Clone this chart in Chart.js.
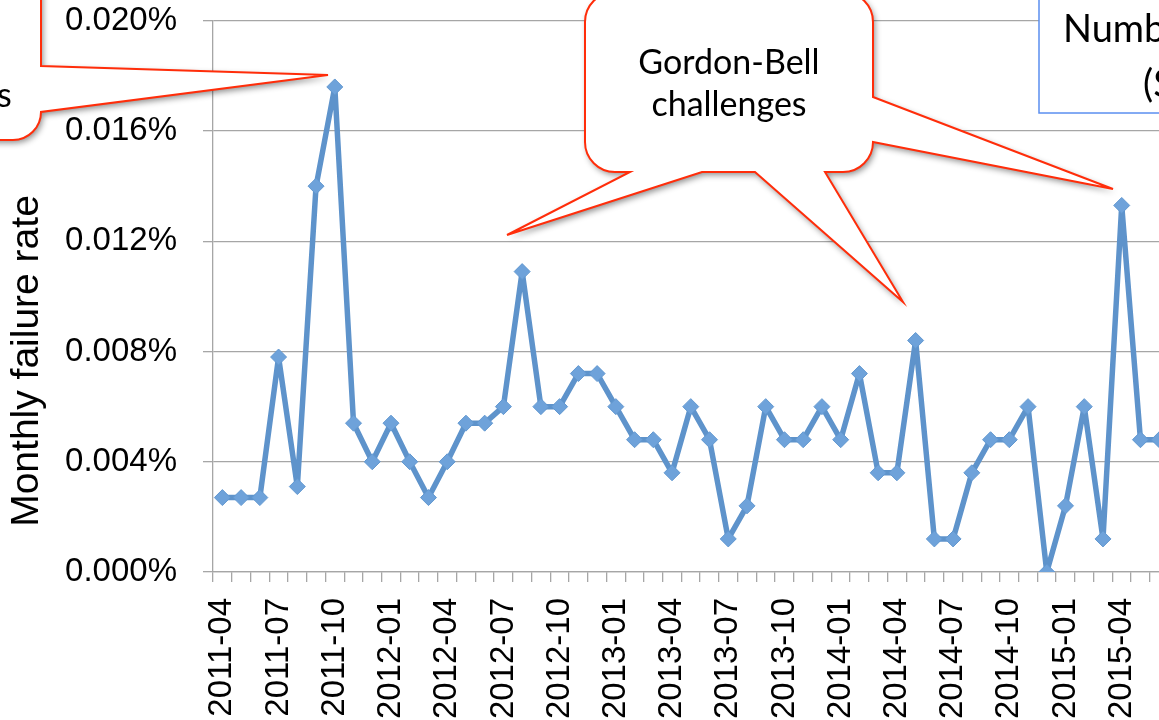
<!DOCTYPE html>
<html>
<head>
<meta charset="utf-8">
<title>Monthly failure rate</title>
<script src="https://cdn.jsdelivr.net/npm/chart.js@4.4.1/dist/chart.umd.min.js"></script>
<style>
  html, body { margin: 0; padding: 0; background: #fff; overflow: hidden; width: 1159px; height: 720px; }
  #wrap { position: absolute; left: 0; top: -25px; width: 1215px; height: 785px; }
</style>
</head>
<body>
<div id="wrap"><canvas id="rate" width="1215" height="785"></canvas></div>
<script>
// months shown on the x axis (one point per month)
const months = [
  '2011-04', '2011-05', '2011-06', '2011-07', '2011-08', '2011-09', '2011-10', '2011-11', '2011-12',
  '2012-01', '2012-02', '2012-03', '2012-04', '2012-05', '2012-06', '2012-07', '2012-08', '2012-09',
  '2012-10', '2012-11', '2012-12', '2013-01', '2013-02', '2013-03', '2013-04', '2013-05', '2013-06',
  '2013-07', '2013-08', '2013-09', '2013-10', '2013-11', '2013-12', '2014-01', '2014-02', '2014-03',
  '2014-04', '2014-05', '2014-06', '2014-07', '2014-08', '2014-09', '2014-10', '2014-11', '2014-12',
  '2015-01', '2015-02', '2015-03', '2015-04', '2015-05', '2015-06'
];

// monthly failure rate, in percent
const failureRate = [
  0.0027, 0.0027, 0.0027, 0.0078, 0.0031, 0.0140, 0.0176, 0.0054, 0.0040,
  0.0054, 0.0040, 0.0027, 0.0040, 0.0054, 0.0054, 0.0060, 0.0109, 0.0060,
  0.0060, 0.0072, 0.0072, 0.0060, 0.0048, 0.0048, 0.0036, 0.0060, 0.0048,
  0.0012, 0.0024, 0.0060, 0.0048, 0.0048, 0.0060, 0.0048, 0.0072, 0.0036,
  0.0036, 0.0084, 0.0012, 0.0012, 0.0036, 0.0048, 0.0048, 0.0060, 0.0000,
  0.0024, 0.0060, 0.0012, 0.0133, 0.0048, 0.0048
];

// y axis range and step (percent)
const yMin = 0;
const yMax = 0.020;
const yStep = 0.004;

// texts
const yTitle = 'Monthly failure rate';
const calloutLines = ['Gordon-Bell', 'challenges'];

const tickFont = { family: '"Liberation Sans", Arial, sans-serif', size: 33 };
const gridGrey = '#a6a6a6';
const calloutRed = '#ff2d0a';
const shiftY = 25; // the canvas sits 25px above the page top

// draws the axis title and the slide callouts on top of the chart
const calloutPlugin = {
  id: 'callouts',
  afterDraw(chart) {
    const ctx = chart.ctx;
    ctx.save();
    ctx.translate(0, shiftY);

    // y axis title
    ctx.save();
    ctx.translate(38, 361);
    ctx.rotate(-Math.PI / 2);
    ctx.font = '39px "Liberation Sans", Arial, sans-serif';
    ctx.fillStyle = '#000';
    ctx.textAlign = 'center';
    ctx.textBaseline = 'alphabetic';
    ctx.fillText(yTitle, 0, 0);
    ctx.restore();

    // left callout (cut by the slide edge)
    ctx.save();
    ctx.beginPath();
    ctx.moveTo(-10, -40);
    ctx.lineTo(41, -40);
    ctx.lineTo(41, 66);
    ctx.lineTo(328, 75);
    ctx.lineTo(41, 112);
    ctx.arcTo(41, 140, 13, 140, 28);
    ctx.lineTo(-10, 140);
    ctx.closePath();
    ctx.shadowColor = 'rgba(0,0,0,0.45)';
    ctx.shadowBlur = 6;
    ctx.shadowOffsetX = 2;
    ctx.shadowOffsetY = 3;
    ctx.fillStyle = '#fff';
    ctx.fill();
    ctx.shadowColor = 'transparent';
    ctx.strokeStyle = calloutRed;
    ctx.lineWidth = 2;
    ctx.stroke();
    ctx.fillStyle = '#000';
    ctx.font = '34px Lato, sans-serif';
    ctx.textAlign = 'left';
    ctx.fillText('s', -3, 107);
    ctx.restore();

    // Gordon-Bell callout with three tails
    const L = 585, R = 873, T = -8, B = 172, r = 30;
    ctx.save();
    ctx.beginPath();
    ctx.moveTo(L + r, T);
    ctx.lineTo(R - r, T);
    ctx.arcTo(R, T, R, T + r, r);
    ctx.lineTo(R, 97);
    ctx.lineTo(1113, 189);
    ctx.lineTo(R, 142);
    ctx.lineTo(R, B - r);
    ctx.arcTo(R, B, R - r, B, r);
    ctx.lineTo(825, B);
    ctx.lineTo(903, 302);
    ctx.lineTo(755, B);
    ctx.lineTo(702, B);
    ctx.lineTo(507, 235);
    ctx.lineTo(630, B);
    ctx.lineTo(L + r, B);
    ctx.arcTo(L, B, L, B - r, r);
    ctx.lineTo(L, T + r);
    ctx.arcTo(L, T, L + r, T, r);
    ctx.closePath();
    ctx.shadowColor = 'rgba(0,0,0,0.45)';
    ctx.shadowBlur = 6;
    ctx.shadowOffsetX = 2;
    ctx.shadowOffsetY = 3;
    ctx.fillStyle = '#fff';
    ctx.fill();
    ctx.shadowColor = 'transparent';
    ctx.strokeStyle = calloutRed;
    ctx.lineWidth = 2;
    ctx.stroke();
    ctx.fillStyle = '#000';
    ctx.font = '34px Lato, sans-serif';
    ctx.textAlign = 'center';
    ctx.fillText(calloutLines[0], 729, 74);
    ctx.fillText(calloutLines[1], 729, 116);
    ctx.restore();

    // blue text box at the top right (cut by the slide edge)
    ctx.save();
    ctx.fillStyle = '#fff';
    ctx.fillRect(1039, -40, 300, 153);
    ctx.strokeStyle = '#5b8ff0';
    ctx.lineWidth = 1.5;
    ctx.strokeRect(1039, -40, 300, 153);
    ctx.fillStyle = '#000';
    ctx.font = '38px Lato, sans-serif';
    ctx.textAlign = 'left';
    ctx.fillText('Numb', 1063, 42);
    ctx.fillText('(S', 1143, 97);
    ctx.restore();

    ctx.restore();
  }
};

new Chart(document.getElementById('rate').getContext('2d'), {
  type: 'line',
  data: {
    labels: months,
    datasets: [{
      label: 'Monthly failure rate',
      data: failureRate,
      borderColor: '#5e93cb',
      borderWidth: 5.5,
      borderJoinStyle: 'round',
      tension: 0,
      pointStyle: 'rectRot',
      pointRadius: 8,
      pointBackgroundColor: '#6ea2da',
      pointBorderColor: '#6298d0',
      pointBorderWidth: 1
    }]
  },
  options: {
    responsive: false,
    animation: false,
    devicePixelRatio: 1,
    layout: { padding: { top: 20, right: 21, left: 0, bottom: 0 } },
    plugins: {
      legend: { display: false },
      tooltip: { enabled: false }
    },
    scales: {
      x: {
        type: 'category',
        offset: true,
        grid: { offset: true, drawOnChartArea: false, drawTicks: true, tickLength: 10, color: gridGrey, lineWidth: 1.3 },
        border: { color: gridGrey, width: 1.3 },
        ticks: {
          autoSkip: false,
          minRotation: 90,
          maxRotation: 90,
          padding: 16,
          color: '#000',
          font: tickFont,
          callback: function (value, index) {
            return index % 3 === 0 ? this.getLabelForValue(value) : '';
          }
        },
        afterFit: (scale) => { scale.height = 188; }
      },
      y: {
        min: yMin,
        max: yMax,
        grid: { color: gridGrey, lineWidth: 1.3, tickLength: 10 },
        border: { color: gridGrey, width: 1.3 },
        ticks: {
          stepSize: yStep,
          padding: 26,
          color: '#000',
          font: tickFont,
          callback: (v) => v.toFixed(3) + '%'
        },
        afterFit: (scale) => { scale.width = 213; }
      }
    }
  },
  plugins: [calloutPlugin]
});
</script>
</body>
</html>
